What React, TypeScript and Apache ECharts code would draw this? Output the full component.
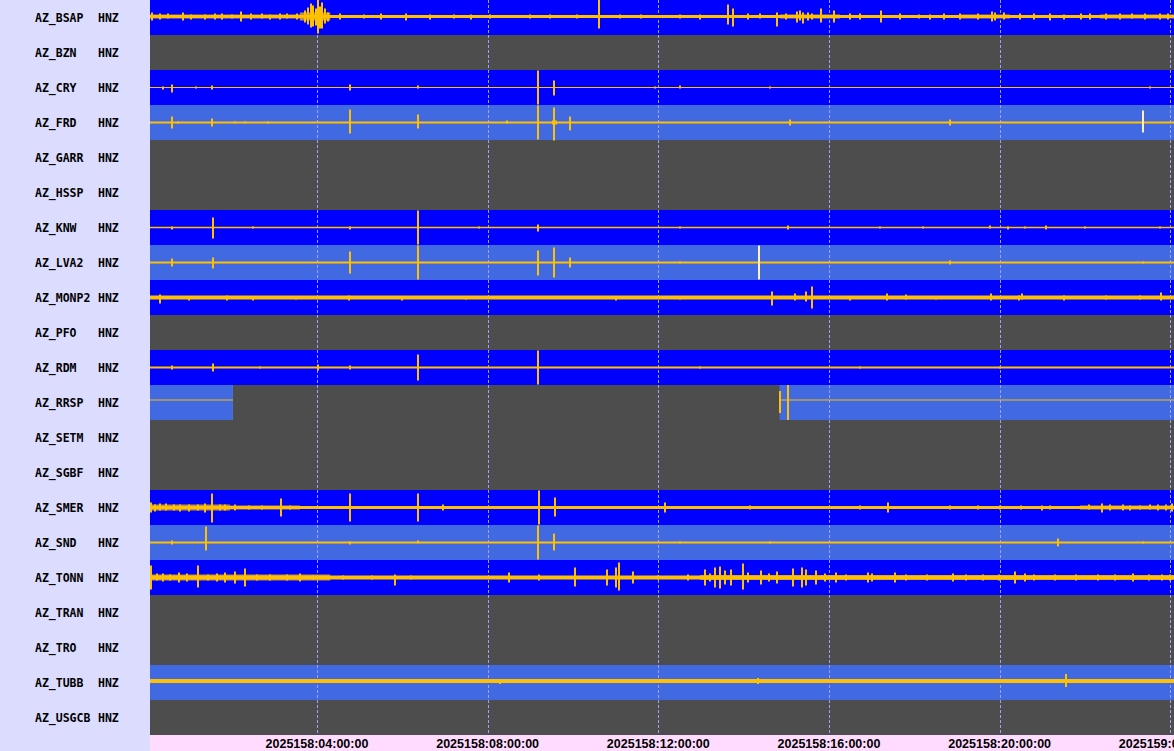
import React, { useEffect, useRef } from "react";
import * as echarts from "echarts";

// ---------- data ----------
const STATIONS = [
  "AZ_BSAP", "AZ_BZN", "AZ_CRY", "AZ_FRD", "AZ_GARR", "AZ_HSSP", "AZ_KNW",
  "AZ_LVA2", "AZ_MONP2", "AZ_PFO", "AZ_RDM", "AZ_RRSP", "AZ_SETM", "AZ_SGBF",
  "AZ_SMER", "AZ_SND", "AZ_TONN", "AZ_TRAN", "AZ_TRO", "AZ_TUBB", "AZ_USGCB",
];
const CHANNEL = "HNZ";
// current = data up to date, late = data behind, gap = no data
const STATUS = [
  "current", "gap", "current", "late", "gap", "gap", "current",
  "late", "current", "gap", "current", "late", "gap", "gap",
  "current", "late", "current", "gap", "gap", "late", "gap",
];
// hours of day 2025158
const X_MIN = 0.0867;
const X_MAX = 24.0867;
const TICK_HOURS = [4, 8, 12, 16, 20, 24];
const TICK_LABELS = [
  "2025158:04:00:00", "2025158:08:00:00", "2025158:12:00:00",
  "2025158:16:00:00", "2025158:20:00:00", "2025159:00:00:00",
];
// [station, from hour, to hour]
const OUTAGES: [string, number, number][] = [["AZ_RRSP", 2.03, 14.85]];

// trace mean offset (counts, + = down)
const TRACE_MEAN: Record<string, number> = { AZ_BSAP: -1, AZ_RRSP: -2.5, AZ_TUBB: -1.5 };

// spikes: [hour, up, down] (counts; 35 counts = full row)
const SPIKES: Record<string, number[][]> = {
  AZ_BSAP: [
    [0.13, 4, 4], [0.32, 3, 3], [0.5, 3, 2], [0.86, 4, 4], [1.05, 2, 3], [1.38, 2, 3],
    [1.6, 3, 3], [1.77, 3, 3], [2.0, 2, 2], [2.22, 5, 5], [2.45, 3, 3], [2.71, 3, 2],
    [2.9, 2, 3], [3.13, 3, 3], [3.3, 3, 2], [3.53, 3, 3], [3.72, 6, 6], [3.79, 9, 8],
    [3.86, 13, 11], [3.91, 11, 10], [3.98, 8, 9], [4.02, 17, 17], [4.07, 10, 12],
    [4.12, 14, 12], [4.19, 8, 7], [4.26, 4, 5], [4.54, 3, 3], [5.1, 2, 2], [5.5, 3, 3],
    [6.09, 3, 4], [6.65, 2, 3], [7.2, 2, 2], [7.6, 2, 3], [8.06, 2, 2], [9.0, 2, 2],
    [9.46, 2, 2], [10.1, 2, 2], [10.61, 17, 12], [11.1, 2, 2], [11.6, 2, 2],
    [12.51, 2, 2], [12.98, 2, 3], [13.63, 12, 8], [13.75, 8, 10], [14.1, 3, 3],
    [14.38, 3, 2], [14.78, 4, 10], [15.0, 3, 3], [15.25, 5, 6], [15.32, 6, 4],
    [15.39, 4, 7], [15.5, 4, 4], [15.6, 3, 3], [15.81, 8, 6], [16.12, 6, 6],
    [16.5, 3, 3], [16.73, 3, 3], [17.22, 6, 6], [17.66, 3, 3], [18.1, 2, 2],
    [18.37, 2, 3], [18.7, 3, 3], [19.07, 3, 3], [19.5, 3, 3], [19.82, 5, 5],
    [19.89, 4, 4], [20.1, 4, 3], [20.48, 3, 3], [20.8, 3, 3], [21.18, 3, 4],
    [21.5, 2, 3], [21.9, 3, 3], [22.12, 3, 3], [22.5, 3, 3], [22.82, 3, 3],
    [23.1, 3, 2], [23.4, 3, 3], [23.76, 3, 3], [23.95, 3, 3],
  ],
  AZ_CRY: [
    [0.39, 1, 2], [0.6, 3, 5], [1.17, 1, 1], [1.54, 2, 2], [4.77, 3, 3], [6.37, 2, 1],
    [9.18, 17, 17], [9.56, 7, 8], [11.92, 1, 1], [12.51, 2, 1], [14.62, 1, 1], [23.52, 1, 1],
  ],
  AZ_FRD: [
    [0.6, 6, 6], [0.74, 1, 1], [1.54, 4, 4], [2.08, 1, 1], [2.31, 1, 1], [2.85, 1, 1],
    [4.77, 13, 11], [6.37, 8, 6], [8.45, 2, 1], [9.18, 17, 17], [9.56, 15, 18],
    [9.53, 2, 2], [9.6, 2, 2], [9.93, 6, 8], [15.08, 3, 3], [18.84, 3, 3],
  ],
  AZ_KNW: [
    [0.6, 1, 2], [1.56, 10, 11], [2.5, 1, 1], [4.77, 1, 2], [6.37, 17, 17], [7.8, 1, 1],
    [9.18, 3, 4], [12.51, 1, 1], [15.04, 2, 2], [17.19, 1, 1], [18.2, 1, 1],
    [19.77, 2, 1], [20.2, 1, 2], [20.6, 1, 1], [21.08, 2, 2], [22.0, 1, 1], [23.76, 1, 1],
  ],
  AZ_LVA2: [
    [0.6, 4, 4], [1.56, 5, 6], [4.77, 11, 11], [6.37, 17, 17], [9.18, 12, 13],
    [9.56, 15, 15], [9.93, 5, 5], [12.51, 1, 1], [18.84, 2, 2], [23.36, 1, 1],
  ],
  AZ_MONP2: [
    [0.32, 3, 6], [1.0, 1, 3], [1.89, 2, 3], [2.5, 1, 3], [3.5, 1, 2], [4.75, 2, 3],
    [6.0, 1, 3], [7.5, 1, 2], [11.0, 1, 3], [12.5, 1, 2], [14.66, 6, 8], [15.2, 4, 3],
    [15.46, 6, 4], [15.6, 11, 11], [16.5, 1, 3], [17.36, 4, 3], [17.8, 3, 2],
    [18.5, 1, 2], [19.8, 4, 3], [20.45, 2, 3], [20.52, 4, 2], [21.5, 2, 3],
    [22.5, 2, 2], [23.3, 2, 2], [23.78, 5, 3],
  ],
  AZ_RDM: [
    [0.6, 2, 2], [1.56, 4, 4], [2.67, 1, 1], [4.02, 3, 3], [4.77, 2, 2], [6.37, 13, 13],
    [9.18, 17, 17], [12.98, 1, 1], [16.73, 1, 1], [20.01, 1, 1],
  ],
  AZ_RRSP: [[14.85, 9, 13], [15.04, 15, 20]],
  AZ_SMER: [
    [0.11, 5, 5], [0.2, 3, 4], [0.32, 4, 3], [0.45, 4, 3], [0.65, 3, 3], [0.79, 3, 4],
    [1.0, 3, 4], [1.2, 3, 3], [1.38, 4, 5], [1.54, 14, 15], [1.73, 3, 3], [1.85, 3, 3],
    [2.08, 3, 3], [2.4, 2, 2], [2.7, 2, 2], [3.16, 9, 9], [3.37, 2, 2], [4.77, 14, 14],
    [6.37, 14, 14], [6.95, 3, 3], [8.57, 1, 1], [9.21, 17, 17], [9.58, 10, 9],
    [9.93, 1, 1], [12.16, 5, 5], [12.74, 1, 1], [14.15, 2, 2], [15.32, 1, 1],
    [16.73, 2, 2], [17.38, 5, 5], [18.84, 2, 2], [19.5, 2, 2], [20.01, 2, 2],
    [20.5, 2, 2], [21.0, 2, 3], [21.18, 2, 2], [22.1, 3, 2], [22.4, 4, 5],
    [22.58, 3, 3], [22.9, 3, 3], [23.06, 2, 3], [23.3, 2, 2], [23.52, 3, 2],
    [23.7, 3, 3], [23.9, 3, 3], [24.04, 4, 4],
  ],
  AZ_SND: [
    [0.6, 2, 2], [1.4, 16, 8], [4.77, 1, 2], [6.37, 2, 1], [9.18, 17, 17], [9.56, 9, 8],
    [12.51, 1, 1], [14.62, 1, 1], [21.37, 4, 4], [23.36, 1, 1],
  ],
  AZ_TONN: [
    [0.11, 12, 12], [0.25, 4, 3], [0.39, 4, 4], [0.55, 3, 3], [0.77, 5, 5],
    [0.95, 4, 4], [1.21, 12, 10], [1.45, 3, 3], [1.65, 4, 4], [1.85, 5, 5],
    [2.08, 6, 6], [2.31, 9, 9], [2.6, 3, 3], [2.9, 3, 3], [3.3, 3, 3], [3.6, 4, 4],
    [3.9, 2, 2], [4.6, 2, 2], [5.3, 2, 2], [5.83, 3, 8], [6.2, 2, 2], [8.5, 5, 5],
    [9.2, 3, 3], [10.05, 10, 9], [10.8, 8, 8], [11.01, 10, 10], [11.08, 15, 13],
    [11.41, 6, 6], [12.0, 2, 2], [12.7, 3, 3], [13.09, 8, 8], [13.2, 4, 4],
    [13.33, 10, 10], [13.45, 11, 11], [13.56, 7, 7], [13.7, 8, 8], [13.98, 14, 12],
    [14.1, 5, 5], [14.4, 7, 7], [14.6, 4, 4], [14.78, 6, 6], [15.16, 9, 9],
    [15.37, 10, 10], [15.46, 8, 8], [15.7, 7, 7], [15.9, 4, 4], [16.17, 5, 5],
    [16.4, 3, 3], [16.91, 5, 5], [17.0, 4, 4], [17.55, 5, 5], [17.8, 3, 3],
    [18.3, 3, 3], [18.91, 4, 4], [19.2, 3, 3], [19.6, 3, 3], [19.98, 3, 3],
    [20.36, 6, 6], [20.59, 4, 4], [20.8, 3, 3], [21.3, 3, 3], [21.8, 3, 3],
    [22.3, 3, 3], [22.7, 3, 3], [23.13, 4, 4], [23.5, 3, 3], [23.8, 3, 3], [24.0, 3, 3],
  ],
  AZ_TUBB: [[6.37, 2, 2], [8.29, 1, 3], [14.33, 3, 3], [21.56, 7, 6]],
};

// pale glitch spikes: [station, hour, up, down]
const GLITCHES: [string, number, number, number][] = [
  ["AZ_FRD", 23.36, 12, 10],
  ["AZ_LVA2", 14.36, 17, 17],
];

// noise bands: [from hour, to hour, half amplitude]
const NOISE: Record<string, number[][]> = {
  AZ_BSAP: [[0.087, 3.6, 2], [3.6, 4.31, 4], [14.85, 16.26, 2], [19.07, 20.24, 2], [22.35, 24.087, 2]],
  AZ_SMER: [[0.087, 1.96, 3], [1.96, 3.6, 2], [21.88, 24.087, 2]],
  AZ_TONN: [[0.087, 4.31, 3], [12.98, 21.18, 2.5], [21.18, 24.087, 2.5]],
};

// ---------- styles ----------
const ROW_PX = 35;
const BG: Record<string, string> = { current: "#0000ff", late: "#4169e1", gap: "#4d4d4d" };
const TRACE = "#ffc000";
const GLITCH = "#fff0b0";
const GRID_LINE = "#a0a0ff";
const LINE_W: Record<string, number> = {
  AZ_BSAP: 3, AZ_CRY: 1, AZ_FRD: 2, AZ_KNW: 1.5, AZ_LVA2: 2, AZ_MONP2: 4, AZ_RDM: 2,
  AZ_RRSP: 1, AZ_SMER: 3, AZ_SND: 2, AZ_TONN: 4, AZ_TUBB: 4,
};
const LABEL_FONT = { fontFamily: "DejaVu Sans Mono", fontWeight: "bold", fontSize: 11.5, color: "#000" };

function buildOption() {
  const statusNames = ["current", "late", "gap"];
  const bgData: number[][] = [];
  const traceWindows: number[][] = [];
  STATIONS.forEach((s, i) => {
    const st = STATUS[i];
    const outs = OUTAGES.filter((o) => o[0] === s).sort((a, b) => a[1] - b[1]);
    let cur = X_MIN;
    outs.forEach((o) => {
      bgData.push([i, cur, o[1], statusNames.indexOf(st)]);
      if (st !== "gap") traceWindows.push([i, cur, o[1]]);
      bgData.push([i, o[1], o[2], 2]);
      cur = o[2];
    });
    bgData.push([i, cur, X_MAX, statusNames.indexOf(st)]);
    if (st !== "gap") traceWindows.push([i, cur, X_MAX]);
  });

  const spikeData: number[][] = [];
  Object.keys(SPIKES).forEach((s) => {
    const r = STATIONS.indexOf(s);
    SPIKES[s].forEach((p) => spikeData.push([r, p[0], p[1], p[2]]));
  });
  const glitchData = GLITCHES.map((g) => [STATIONS.indexOf(g[0]), g[1], g[2], g[3]]);
  const noiseData: number[][] = [];
  Object.keys(NOISE).forEach((s) => {
    const r = STATIONS.indexOf(s);
    NOISE[s].forEach((n) => noiseData.push([r, n[0], n[1], n[2]]));
  });

  const center = (row: number) => row + 0.5 + (TRACE_MEAN[STATIONS[row]] || 0) / ROW_PX;

  const spikeRender = (color: string) => (params: any, api: any) => {
    const row = api.value(0);
    const h = api.value(1);
    const c = center(row);
    const top = api.coord([h, c - api.value(2) / ROW_PX]);
    const bot = api.coord([h, c + api.value(3) / ROW_PX]);
    return {
      type: "rect",
      shape: { x: Math.round(top[0]) - 1, y: top[1], width: 2, height: bot[1] - top[1] },
      style: { fill: color },
    };
  };

  return {
    animation: false,
    backgroundColor: "#dcdcff",
    grid: { left: 150, right: 0, top: 0, bottom: 16, outerBoundsMode: "none", containLabel: false },
    graphic: [
      {
        type: "rect",
        left: 150,
        top: 735,
        z: -1,
        silent: true,
        shape: { width: 1024, height: 16 },
        style: { fill: "#ffdcff" },
      },
    ],
    xAxis: {
      type: "value",
      min: X_MIN,
      max: X_MAX,
      axisLine: { show: false },
      axisTick: { show: false },
      splitLine: { show: false },
      axisLabel: {
        customValues: TICK_HOURS,
        formatter: (v: number) => {
          const k = TICK_HOURS.findIndex((t) => Math.abs(t - v) < 1e-6);
          return k >= 0 ? TICK_LABELS[k] : "";
        },
        hideOverlap: false,
        margin: 2,
        color: "#000",
        fontFamily: "Liberation Sans",
        fontWeight: "bold",
        fontSize: 12.5,
        lineHeight: 13,
      },
    },
    yAxis: [
      { type: "value", min: 0, max: STATIONS.length, inverse: true, show: false },
      {
        type: "category",
        data: STATIONS,
        inverse: true,
        position: "left",
        axisLine: { show: false },
        axisTick: { show: false },
        splitLine: { show: false },
        axisLabel: {
          align: "left",
          margin: 115,
          formatter: (v: string) => `{n|${v}}{c|${CHANNEL}}`,
          rich: {
            n: { width: 63, ...LABEL_FONT },
            c: { ...LABEL_FONT },
          },
        },
      },
    ],
    series: [
      {
        type: "custom",
        name: "status",
        z: 1,
        clip: true,
        encode: { x: [1, 2], y: 0 },
        data: bgData,
        renderItem: (params: any, api: any) => {
          const r = api.value(0);
          const a = api.coord([api.value(1), r]);
          const b = api.coord([api.value(2), r + 1]);
          return {
            type: "rect",
            shape: { x: a[0], y: a[1], width: b[0] - a[0], height: b[1] - a[1] },
            style: { fill: BG[statusNames[api.value(3)]] },
          };
        },
      },
      {
        type: "custom",
        name: "grid",
        z: 2,
        clip: true,
        encode: { x: 0 },
        data: TICK_HOURS.map((h) => [h]),
        renderItem: (params: any, api: any) => {
          const a = api.coord([api.value(0), 0]);
          const b = api.coord([api.value(0), STATIONS.length]);
          const x = Math.round(a[0]) + 0.5;
          return {
            type: "line",
            shape: { x1: x, y1: a[1], x2: x, y2: b[1] },
            style: { stroke: GRID_LINE, lineWidth: 1, lineDash: [3, 2] },
          };
        },
      },
      {
        type: "custom",
        name: "noise",
        z: 3,
        clip: true,
        encode: { x: [1, 2], y: 0 },
        data: noiseData,
        renderItem: (params: any, api: any) => {
          const r = api.value(0);
          const c = center(r);
          const amp = api.value(3) / ROW_PX;
          const a = api.coord([api.value(1), c - amp]);
          const b = api.coord([api.value(2), c + amp]);
          return {
            type: "rect",
            shape: { x: a[0], y: a[1], width: b[0] - a[0], height: b[1] - a[1] },
            style: { fill: TRACE, opacity: 0.75 },
          };
        },
      },
      {
        type: "custom",
        name: "trace",
        z: 3,
        clip: true,
        encode: { x: [1, 2], y: 0 },
        data: traceWindows,
        renderItem: (params: any, api: any) => {
          const r = api.value(0);
          const w = LINE_W[STATIONS[r]] || 1;
          const c = center(r);
          const a = api.coord([api.value(1), c]);
          const b = api.coord([api.value(2), c]);
          return {
            type: "rect",
            shape: { x: a[0], y: a[1] - w / 2, width: b[0] - a[0], height: w },
            style: { fill: TRACE },
          };
        },
      },
      {
        type: "custom",
        name: "spikes",
        z: 4,
        clip: true,
        encode: { x: 1, y: 0 },
        data: spikeData,
        renderItem: spikeRender(TRACE),
      },
      {
        type: "custom",
        name: "glitches",
        z: 4,
        clip: true,
        encode: { x: 1, y: 0 },
        data: glitchData,
        renderItem: spikeRender(GLITCH),
      },
    ],
  };
}

export default function App() {
  const ref = useRef<HTMLDivElement>(null);
  useEffect(() => {
    if (!ref.current) return;
    const chart = echarts.init(ref.current, undefined, { renderer: "svg" });
    chart.setOption(buildOption() as any);
    return () => chart.dispose();
  }, []);
  return (
    <div
      ref={ref}
      style={{ position: "fixed", left: 0, top: 0, width: 1174, height: 751 }}
    />
  );
}
